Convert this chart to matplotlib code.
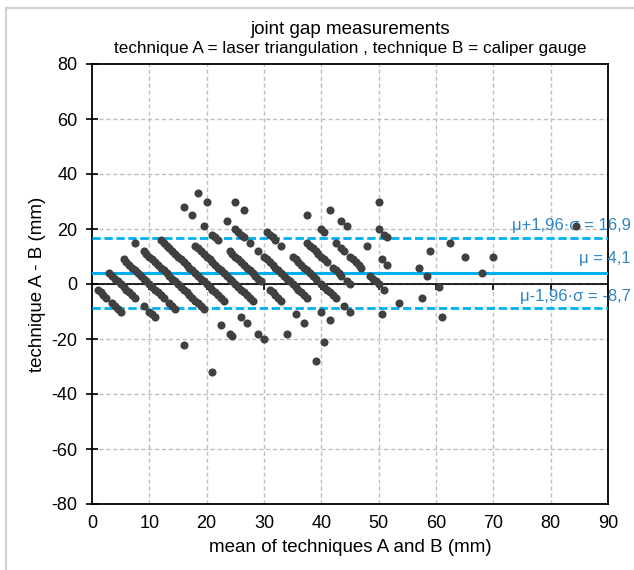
import numpy as np
import matplotlib.pyplot as plt
from matplotlib.lines import Line2D

plt.rcParams['font.family'] = ['Liberation Sans', 'DejaVu Sans']
plt.rcParams['axes.unicode_minus'] = False

# technique A comes in 5 mm steps, B in 1 mm steps -> one diagonal stripe per A value
a_levels = [0, 5, 10, 15, 20, 25, 30, 35, 40, 45, 50, 55, 60, 65, 70, 75, 95]

b_a00 = [2, 3, 4, 5, 7, 8, 9, 10]
b_a05 = [1, 2, 3, 4, 5, 6, 7, 8, 9, 10, 13, 15, 16, 17, 27, 37]
b_a10 = [1, 2, 3, 4, 5, 6, 7, 8, 9, 10, 11, 12, 13, 14, 15, 17, 18, 19]
b_a15 = [0, 3, 4, 5, 6, 7, 8, 9, 10, 11, 12, 13, 14, 15, 16, 17, 18, 19, 20, 21,
         22, 23, 24, 30, 33, 34]
b_a20 = [4, 5, 6, 7, 8, 9, 10, 11, 12, 13, 14, 15, 16, 17, 18, 19, 20, 21, 22, 23,
         24, 25, 26, 32, 34, 38, 40]
b_a25 = [11, 12, 13, 14, 15, 16, 17, 18, 19, 20, 21, 22, 23, 24, 25, 26, 27, 28,
         29, 30, 31, 43, 53]
b_a30 = [2, 5, 9, 12, 13, 14, 18, 19, 20, 21, 22, 23, 24, 25, 26, 27, 28, 29,
         32, 33, 34, 35, 36, 41, 44, 51]
b_a35 = [2, 5, 12, 15, 16, 17, 18, 20, 23, 25, 26, 27, 28, 29, 30, 31, 32, 33, 34,
         35, 36, 37, 38, 39, 40, 45, 48]
b_a40 = [10, 13, 21, 22, 23, 24, 26, 30, 31, 32, 33, 34, 35, 36, 37, 38, 40, 41,
         42, 43, 44, 45, 48, 50]
b_a45 = [30, 31, 32, 33, 34, 35, 36, 37, 39, 40, 41, 42, 44, 45, 56]
b_a50 = [25, 30, 31, 35, 37, 38, 40, 41, 42, 43, 44, 47, 48, 49, 50, 52, 57]
b_a55 = [28, 32, 34, 41, 46, 48, 60, 67]
b_a60 = [40, 42, 43, 54, 57, 61]
b_a65 = [35, 53]
b_a70 = [55, 60, 66]
b_a75 = [65]
b_a95 = [74]

b_lists = [b_a00, b_a05, b_a10, b_a15, b_a20, b_a25, b_a30, b_a35, b_a40,
           b_a45, b_a50, b_a55, b_a60, b_a65, b_a70, b_a75, b_a95]

mu = 4.1
upper = 16.9
lower = -8.7
lab_upper = "μ+1,96·σ = 16,9"
lab_mu = "μ = 4,1"
lab_lower = "μ-1,96·σ = -8,7"

a = np.concatenate([np.full(len(b), av, dtype=float) for av, b in zip(a_levels, b_lists)])
b = np.concatenate([np.array(bl, dtype=float) for bl in b_lists])
mean_ab = (a + b) / 2
diff_ab = a - b

fig = plt.figure(figsize=(6.34, 5.70), dpi=100)
ax = fig.add_axes([92/634, 1 - 504/570, (608-92)/634, (504-64)/570])

ax.set_xlim(0, 90)
ax.set_ylim(-80, 80)
ax.set_xticks(np.arange(0, 91, 10))
ax.set_yticks(np.arange(-80, 81, 20))

grid_kw = dict(color='#BFBFBF', lw=1.0, ls=(0, (3, 2)), zorder=0)
for gx in range(10, 90, 10):
    ax.axvline(gx, **grid_kw)
for gy in range(-60, 80, 20):
    ax.axhline(gy, **grid_kw)

# zero axis with its tick marks
ax.axhline(0, color='black', lw=1.2, zorder=2)
ax.vlines(np.arange(10, 91, 10), -2.2, 0, color='black', lw=1.2, zorder=2)

ax.axhline(upper, color='#00B0F0', lw=2.0, ls=(0, (3, 1.3)), zorder=3)
ax.axhline(lower, color='#00B0F0', lw=2.0, ls=(0, (3, 1.3)), zorder=3)
ax.axhline(mu, color='#00B0F0', lw=2.2, zorder=3)

ax.scatter(mean_ab, diff_ab, s=34, color='#404040', linewidths=0, zorder=4)

txt_kw = dict(color='#2F86C8', fontsize=12, ha='right', va='center', clip_on=False)
ax.text(94.0, 21.1, lab_upper, **txt_kw)
ax.text(94.0, 9.4, lab_mu, **txt_kw)
ax.text(94.0, -4.7, lab_lower, **txt_kw)

for sp in ax.spines.values():
    sp.set_color('black')
    sp.set_linewidth(1.3)

ax.tick_params(axis='y', direction='inout', length=9, width=1.2, pad=6, labelsize=13)
ax.tick_params(axis='x', length=0, pad=8, labelsize=13)

fig.text(350/634, 1 - 30/570, "joint gap measurements", ha='center', va='center', fontsize=13.5)
fig.text(350/634, 1 - 48/570, "technique A = laser triangulation , technique B = caliper gauge",
         ha='center', va='center', fontsize=12.3)
fig.text(350/634, 1 - 547/570, "mean of techniques A and B (mm)", ha='center', va='center', fontsize=13.5)
fig.text(38/634, 1 - 284/570, "technique A - B (mm)", ha='center', va='center',
         rotation=90, fontsize=13.5)

# light chart border
fig.add_artist(Line2D([6/634, 6/634], [0, 1 - 8/570], color='#D0D0D0', lw=1.5))
fig.add_artist(Line2D([6/634, 1], [1 - 8/570, 1 - 8/570], color='#D0D0D0', lw=1.5))

fig.savefig('out.png', dpi=100)
